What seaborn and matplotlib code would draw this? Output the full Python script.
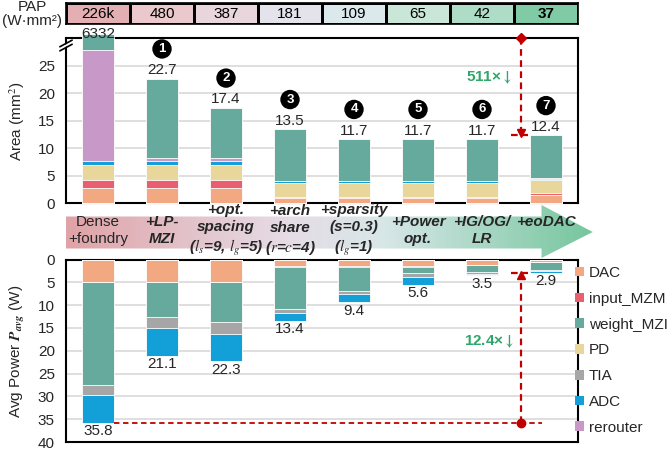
import numpy as np
import pandas as pd
import matplotlib
matplotlib.use("Agg")
import matplotlib.pyplot as plt
from matplotlib.colors import ListedColormap, LinearSegmentedColormap
from matplotlib.patches import Patch, Polygon
import seaborn as sns

# ---------------- data ----------------
stage_keys = ["dense", "lp_mzi", "opt_spacing", "arch_share", "sparsity",
              "power_opt", "ig_og_lr", "eodac"]
stage_text = ["Dense\n+foundry", "+LP-\nMZI", "+opt.\nspacing\n($l_s$=9, $l_g$=5)",
              "+arch\nshare\n($r$=$c$=4)", "+sparsity\n(s=0.3)\n($l_g$=1)",
              "+Power\nopt.", "+IG/OG/\nLR", "+eoDAC\n "]
step_marks = ["", "1", "2", "3", "4", "5", "6", "7"]

pap_labels = ["226k", "480", "387", "181", "109", "65", "42", "37"]

components = ["DAC", "input_MZM", "weight_MZI", "PD", "TIA", "ADC", "rerouter"]

# Area (mm^2); first column is shown on a broken axis (true total 6332)
area_dac        = [2.90, 2.90, 2.90, 0.95, 0.95, 0.95, 0.95, 1.50]
area_input_mzm  = [1.45, 1.45, 1.45, 0.30, 0.30, 0.30, 0.30, 0.35]
area_pd         = [2.65, 2.65, 2.65, 2.50, 2.50, 2.50, 2.50, 2.45]
area_adc        = [0.75, 0.75, 0.75, 0.25, 0.25, 0.25, 0.25, 0.15]
area_rerouter   = [20.2, 0.60, 0.60, 0.00, 0.00, 0.00, 0.00, 0.15]
area_weight_mzi = [2.85, 14.35, 9.05, 9.50, 7.70, 7.70, 7.70, 7.80]
area_totals     = [6332, 22.7, 17.4, 13.5, 11.7, 11.7, 11.7, 12.4]

# Average power (W)
power_dac        = [4.90, 4.90, 4.90, 1.50, 1.50, 1.50, 1.25, 0.50]
power_input_mzm  = [0.10, 0.10, 0.10, 0.05, 0.05, 0.05, 0.05, 0.05]
power_weight_mzi = [22.4, 7.50, 8.80, 9.40, 5.25, 1.35, 1.50, 1.80]
power_tia        = [2.40, 2.60, 2.50, 0.85, 0.80, 0.90, 0.30, 0.25]
power_adc        = [6.00, 6.00, 6.00, 1.60, 1.80, 1.80, 0.40, 0.30]
power_totals     = [35.8, 21.1, 22.3, 13.4, 9.4, 5.6, 3.5, 2.9]

# ---------------- style ----------------
colors = {"DAC": "#F2A982", "input_MZM": "#E8606F", "weight_MZI": "#66AA9E",
          "PD": "#E9D69A", "TIA": "#A6A6A6", "ADC": "#13A0D8", "rerouter": "#C898C9"}
pap_colors = ["#E4AFB2", "#EAC8CB", "#E8D6DC", "#E4E2EA", "#DCE9EC",
              "#C9E6D8", "#AEDCC6", "#80CBA6"]
red = "#C00000"
green = "#2FA66A"

sns.set_style("white")
plt.rcParams["font.family"] = ["Liberation Sans", "DejaVu Sans"]
plt.rcParams["mathtext.fontset"] = "stix"
FS = 11

W, H = 668, 449
fig = plt.figure(figsize=(W / 100, H / 100), dpi=100)

def fx(px):
    return px / W

def fy(px):
    return 1 - px / H

L, AW = 66, 512
ax_pap = fig.add_axes([fx(L), fy(24), AW / W, 21 / H])
ax_area = fig.add_axes([fx(L), fy(203.5), AW / W, 165 / H])
ax_arrow = fig.add_axes([fx(L), fy(259.5), (AW + 16) / W, 56 / H])
ax_power = fig.add_axes([fx(L), fy(442), AW / W, 182.5 / H])

# ---------------- PAP row ----------------
sns.heatmap(np.arange(len(pap_labels))[None, :], ax=ax_pap, cmap=ListedColormap(pap_colors),
            annot=np.array(pap_labels)[None, :], fmt="", cbar=False,
            linewidths=1.0, linecolor="black", xticklabels=False, yticklabels=False,
            annot_kws={"fontsize": FS, "color": "black"})
ax_pap.texts[-1].set_fontweight("bold")
for s in ax_pap.spines.values():
    s.set_visible(True)
    s.set_linewidth(1.2)
    s.set_color("black")
fig.text(fx(32), fy(14), "PAP\n(W·mm²)", ha="center", va="center", fontsize=FS, linespacing=1.05)

# ---------------- stacked bars ----------------
def stacked(ax, parts):
    df = pd.DataFrame({"stage": stage_keys})
    cum = np.zeros(len(stage_keys))
    levels = []
    for name, vals in parts:
        cum = cum + np.asarray(vals)
        levels.append((name, cum.copy()))
    for name, top in reversed(levels):
        df["v"] = top
        sns.barplot(data=df, x="stage", y="v", order=stage_keys, color=colors[name],
                    saturation=1, width=0.5, errorbar=None, edgecolor="white",
                    linewidth=0.6, ax=ax, zorder=3)
    ax.set_xlabel("")
    ax.set_xticks([])
    ax.set_xlim(-0.5, 7.5)

area_parts = [("DAC", area_dac), ("input_MZM", area_input_mzm), ("PD", area_pd),
              ("ADC", area_adc), ("rerouter", area_rerouter), ("weight_MZI", area_weight_mzi)]
power_parts = [("DAC", power_dac), ("input_MZM", power_input_mzm),
               ("weight_MZI", power_weight_mzi), ("TIA", power_tia), ("ADC", power_adc)]

stacked(ax_area, area_parts)
stacked(ax_power, power_parts)
for p in ax_area.patches:
    p.set_clip_on(False)

for ax in (ax_area, ax_power):
    ax.yaxis.grid(True, color="#D9D9D9", linewidth=1.2)
    ax.set_axisbelow(True)
    for s in ax.spines.values():
        s.set_visible(True)
        s.set_linewidth(1.5)
        s.set_color("black")
    ax.tick_params(axis="y", length=0, pad=8, labelsize=FS)

ax_area.set_ylim(0, 30)
ax_area.set_yticks(range(0, 30, 5))
ax_area.set_ylabel("Area (mm$^2$)", fontsize=FS)
ax_area.yaxis.set_label_coords(-0.076, 0.5)

ax_power.set_ylim(40, 0)
ax_power.set_yticks(range(0, 45, 5))
ax_power.set_ylabel(r"Avg Power $\mathbfit{P}_{\mathbfit{avg}}$ (W)", fontsize=FS)
ax_power.yaxis.set_label_coords(-0.076, 0.5)

# bar totals
area_shown = np.sum([v for _, v in area_parts], axis=0)
for i, tot in enumerate(area_totals):
    if i == 0:
        ax_area.text(i, area_shown[i], f"{tot}", ha="center", va="center",
                     fontsize=FS, clip_on=False, zorder=5)
        continue
    ax_area.text(i, tot + 0.25, f"{tot}", ha="center", va="bottom", fontsize=FS, zorder=5)
    ax_area.text(i, tot + 5.4, step_marks[i], ha="center", va="center", color="white",
                 fontsize=9.5, fontweight="bold", zorder=5,
                 bbox=dict(boxstyle="circle,pad=0.28", fc="black", ec="none"))
for i, tot in enumerate(power_totals):
    ax_power.text(i, tot + 0.3, f"{tot}", ha="center", va="top", fontsize=FS, zorder=5)

# broken-axis mark on the area axis
for dy in (0.0, 0.025):
    ax_area.plot([-0.012, 0.012], [0.925 + dy, 0.965 + dy], transform=ax_area.transAxes,
                 color="black", lw=1.2, clip_on=False, zorder=6)
ax_area.add_patch(Polygon([(-0.012, 0.93), (0.012, 0.97), (0.012, 0.985), (-0.012, 0.945)],
                          closed=True, transform=ax_area.transAxes, fc="white", ec="none",
                          clip_on=False, zorder=5))

# reduction markers
xr = 6.61
ax_area.plot([xr, xr], [30, area_totals[-1] + 0.9], ls="--", color=red, lw=1.6,
             dashes=(3, 2), clip_on=False, zorder=6)
ax_area.plot([xr], [area_totals[-1] + 0.45], marker="v", color=red, ms=6, zorder=6)
ax_area.plot([xr], [30], marker="D", color=red, ms=5, clip_on=False, zorder=7)
ax_area.plot([6.45, 6.72], [area_totals[-1]] * 2, ls="--", color=red, lw=1.6,
             dashes=(3, 2), zorder=6)
ax_area.text(6.11, 22.9, r"511×$\mathbf{\downarrow}$", ha="center", va="center", color=green,
             fontsize=FS, fontweight="bold", zorder=6)

ax_power.plot([0.25, 6.93], [power_totals[0]] * 2, ls="--", color=red, lw=1.3,
              dashes=(3, 2), zorder=6)
ax_power.plot([xr, xr], [power_totals[0], power_totals[-1] + 0.9], ls="--", color=red,
              lw=1.6, dashes=(3, 2), zorder=6)
ax_power.plot([xr], [power_totals[-1] + 0.5], marker="^", color=red, ms=6, zorder=6)
ax_power.plot([xr], [power_totals[0]], marker="o", color=red, ms=6, zorder=7)
ax_power.plot([6.45, 6.72], [power_totals[-1]] * 2, ls="--", color=red, lw=1.6,
              dashes=(3, 2), zorder=6)
ax_power.text(6.11, 18.0, r"12.4×$\mathbf{\downarrow}$", ha="center", va="center", color=green,
              fontsize=FS, fontweight="bold", zorder=6)

# ---------------- gradient stage arrow ----------------
x_end = 7.73
ax_arrow.set_axis_off()
grad_cmap = LinearSegmentedColormap.from_list(
    "stage", [(0.0, "#DFA3A7"), (0.42, "#E6DCE6"), (0.6, "#D8E7E8"), (1.0, "#76C69E")])
im = ax_arrow.imshow(np.linspace(0, 1, 256)[None, :], cmap=grad_cmap, aspect="auto",
                     extent=(-0.5, x_end, 0, 56), origin="lower", zorder=1)
arrow_shape = Polygon([(-0.5, 11), (6.93, 11), (6.93, 1.5), (x_end, 27.5), (6.93, 54.5),
                       (6.93, 43), (-0.5, 43)], closed=True, fc="none", ec="none",
                      transform=ax_arrow.transData)
ax_arrow.add_patch(arrow_shape)
im.set_clip_path(arrow_shape)
ax_arrow.set_xlim(-0.5, 7.75)
ax_arrow.set_ylim(0, 56)
for i, t in enumerate(stage_text):
    kw = dict(fontweight="normal", fontstyle="normal") if i == 0 else \
        dict(fontweight="bold", fontstyle="italic")
    ls = 1.22 if t.count("\n") < 2 else 1.32
    ax_arrow.text(i, 29.0, t, ha="center", va="center", fontsize=FS, linespacing=ls,
                  zorder=3, clip_on=False, **kw)

# ---------------- legend ----------------
handles = [Patch(facecolor=colors[c], edgecolor="none") for c in components]
fig.legend(handles, components, loc="upper left", bbox_to_anchor=(fx(575), fy(266)),
           frameon=False, fontsize=FS, handlelength=0.6, handleheight=0.6,
           handletextpad=0.3, labelspacing=0.77, borderaxespad=0, borderpad=0)

fig.savefig("out.png", dpi=100)
